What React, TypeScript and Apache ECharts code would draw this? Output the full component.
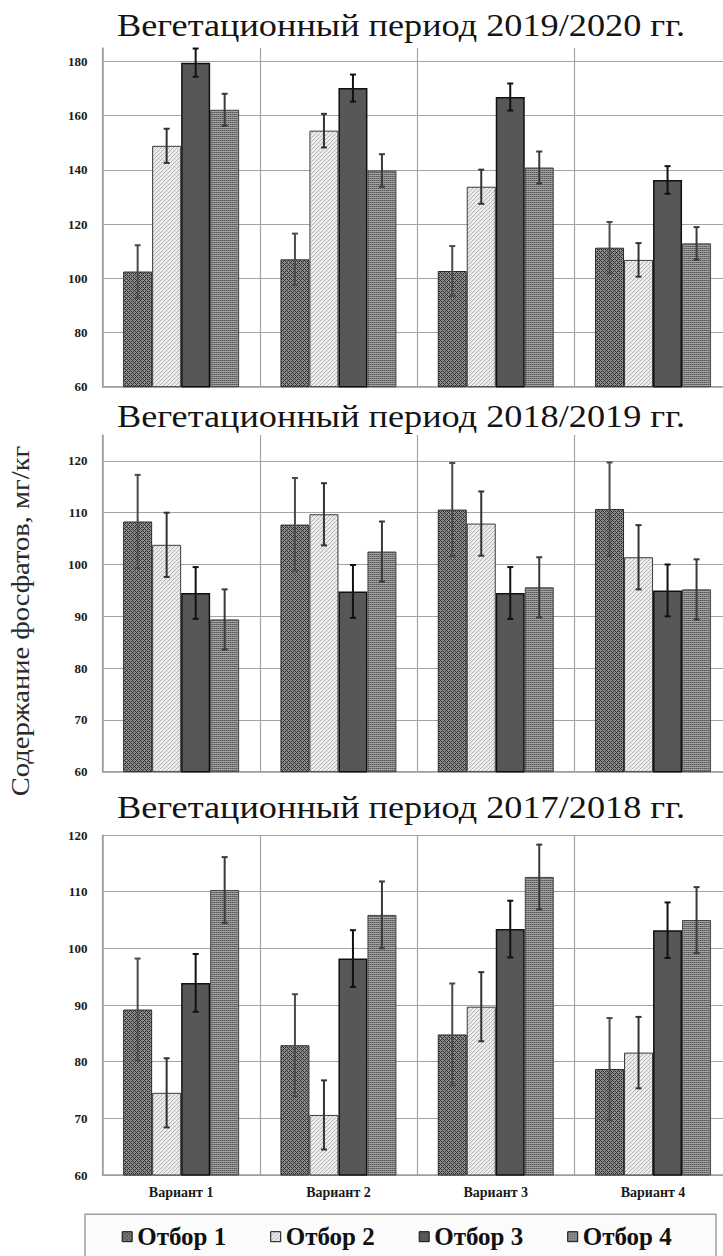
import React, { useEffect, useRef } from "react";
import * as echarts from "echarts";

// Categories, series and labels
const categories = ["Вариант 1", "Вариант 2", "Вариант 3", "Вариант 4"];
const samplings = ["Отбор 1", "Отбор 2", "Отбор 3", "Отбор 4"];
const periodTitles = [
  "Вегетационный период 2019/2020 гг.",
  "Вегетационный период 2018/2019 гг.",
  "Вегетационный период 2017/2018 гг.",
];
const yAxisTitle = "Содержание фосфатов, мг/кг";

// Phosphate content, mg/kg. Rows: Отбор 1..4, columns: Вариант 1..4
const values2020 = [
  [102.5, 107.0, 102.7, 111.3],
  [148.9, 154.5, 133.8, 106.8],
  [179.6, 170.2, 166.9, 136.3],
  [162.2, 139.8, 140.9, 112.9],
];
const errors2020 = [
  [9.7, 9.5, 9.2, 9.5],
  [6.3, 6.2, 6.3, 6.2],
  [5.2, 5.0, 5.0, 5.1],
  [5.9, 6.0, 5.9, 6.0],
];

const values2019 = [
  [108.3, 107.7, 110.6, 110.7],
  [103.8, 109.7, 107.9, 101.4],
  [94.5, 94.8, 94.5, 95.0],
  [89.4, 102.5, 95.6, 95.2],
];
const errors2019 = [
  [9.0, 9.0, 9.0, 9.0],
  [6.2, 6.0, 6.2, 6.2],
  [5.0, 5.1, 5.0, 5.0],
  [5.8, 5.8, 5.8, 5.8],
];

const values2018 = [
  [89.2, 82.9, 84.8, 78.7],
  [74.5, 70.6, 89.7, 81.6],
  [93.9, 98.2, 103.4, 103.2],
  [110.3, 105.9, 112.6, 105.0],
];
const errors2018 = [
  [9.0, 9.0, 9.0, 9.0],
  [6.1, 6.1, 6.1, 6.3],
  [5.1, 5.0, 5.0, 4.9],
  [5.8, 5.9, 5.7, 5.8],
];

// Y-axis scales per panel
const yMins = [60, 60, 60];
const yMaxs = [185, 125, 120];
const yIntervals = [20, 10, 10];

const panelValues = [values2020, values2019, values2018];
const panelErrors = [errors2020, errors2019, errors2018];

// Layout
const CHART_W = 745;
const CHART_H = 1256;
const PLOT_LEFT = 102.5;
const PLOT_RIGHT = 13.3;
const GRID_TOPS = [48, 435, 835];
const GRID_HEIGHTS = [338.7, 336.7, 340];
const TITLE_MIDS = [25, 416.7, 807.5];
const BAR_W = 29;
const SERIF = "Liberation Serif";

function makePattern(w: number, h: number, pick: (x: number, y: number) => string) {
  const c = document.createElement("canvas");
  c.width = w;
  c.height = h;
  const ctx = c.getContext("2d")!;
  for (let y = 0; y < h; y++) {
    for (let x = 0; x < w; x++) {
      ctx.fillStyle = pick(x, y);
      ctx.fillRect(x, y, 1, 1);
    }
  }
  return { image: c, repeat: "repeat" as const };
}

export default function App() {
  const ref = useRef<HTMLDivElement>(null);

  useEffect(() => {
    if (!ref.current) return;
    const chart = echarts.init(ref.current, undefined, { renderer: "svg" });

    // Fill textures for the four samplings
    const fills: any[] = [
      // dark cross-hatch
      makePattern(4, 4, (x, y) =>
        (x + y) % 4 === 0 || (x - y + 4) % 4 === 0 ? "#303030" : "#8e8e8e"
      ),
      // light fine diagonal texture
      makePattern(4, 4, (x, y) => ((x + y) % 4 === 0 ? "#b4b4b4" : (x + 2 * y) % 4 === 1 ? "#dcdcdc" : "#f0f0f0")),
      // solid dark
      "#575757",
      // horizontal dotted stripes
      makePattern(4, 4, (x, y) =>
        y % 2 === 0 ? (x % 2 === 0 ? "#555555" : "#787878") : "#a2a2a2"
      ),
    ];
    const borders = [
      { color: "#2a2a2a", width: 1 },
      { color: "#3a3a3a", width: 1 },
      { color: "#111111", width: 1.5 },
      { color: "#444444", width: 1 },
    ];
    const errorColors = ["#4a4a4a", "#333333", "#111111", "#3a3a3a"];

    const grids = GRID_TOPS.map((top, g) => ({
      left: PLOT_LEFT,
      right: PLOT_RIGHT,
      top,
      height: GRID_HEIGHTS[g],
      containLabel: false,
    }));

    const xAxes = GRID_TOPS.map((_, g) => ({
      type: "category",
      gridIndex: g,
      data: categories,
      boundaryGap: true,
      axisLine: { show: true, lineStyle: { color: "#9c9c9c", width: 1.5 } },
      axisTick: { show: false },
      splitLine: { show: true, interval: 0, lineStyle: { color: "#a4a4a4", width: 1.2 } },
      axisLabel: {
        show: g === 2,
        interval: 0,
        margin: 10,
        color: "#1a1a1a",
        fontFamily: SERIF,
        fontWeight: "bold",
        fontSize: 14,
      },
    }));

    const yAxes = GRID_TOPS.map((_, g) => ({
      type: "value",
      gridIndex: g,
      min: yMins[g],
      max: yMaxs[g],
      interval: yIntervals[g],
      axisLine: { show: true, lineStyle: { color: "#9c9c9c", width: 1.5 } },
      axisTick: { show: false },
      splitLine: {
        show: true,
        showMaxLine: g === 2,
        lineStyle: { color: "#a4a4a4", width: 1.2 },
      },
      axisLabel: {
        showMaxLabel: g === 2,
        margin: 15,
        color: "#1a1a1a",
        fontFamily: SERIF,
        fontWeight: "bold",
        fontSize: 13,
      },
    }));

    const series: any[] = [];
    GRID_TOPS.forEach((_, g) => {
      samplings.forEach((name, k) => {
        series.push({
          type: "bar",
          name,
          xAxisIndex: g,
          yAxisIndex: g,
          data: panelValues[g][k],
          barWidth: BAR_W,
          barGap: "0%",
          itemStyle: {
            color: fills[k],
            borderColor: borders[k].color,
            borderWidth: borders[k].width,
          },
          emphasis: { disabled: true },
        });
      });
      const errData: number[][] = [];
      samplings.forEach((_, k) => {
        categories.forEach((__, c) => {
          errData.push([c, k, panelValues[g][k][c], panelErrors[g][k][c]]);
        });
      });
      series.push({
        type: "custom",
        name: "error",
        xAxisIndex: g,
        yAxisIndex: g,
        z: 5,
        clip: false,
        encode: { x: 0, y: 2 },
        data: errData,
        renderItem: (_params: any, api: any) => {
          const c = api.value(0);
          const k = api.value(1);
          const v = api.value(2);
          const e = api.value(3);
          const x = api.coord([c, v])[0] + (k - 1.5) * BAR_W;
          const yTop = api.coord([c, v + e])[1];
          const yBot = api.coord([c, v - e])[1];
          const style = { stroke: errorColors[k], lineWidth: 2 };
          return {
            type: "group",
            children: [
              { type: "line", shape: { x1: x, y1: yTop, x2: x, y2: yBot }, style },
              { type: "line", shape: { x1: x - 3, y1: yTop, x2: x + 3, y2: yTop }, style },
              { type: "line", shape: { x1: x - 3, y1: yBot, x2: x + 3, y2: yBot }, style },
            ],
          };
        },
      });
    });

    const graphics: any[] = periodTitles.map((t, i) => ({
      type: "text",
      x: 401,
      y: TITLE_MIDS[i],
      scaleX: 1.17,
      style: {
        text: t,
        align: "center",
        verticalAlign: "middle",
        fill: "#141414",
        fontFamily: SERIF,
        fontSize: 31,
      },
    }));
    graphics.push({
      type: "text",
      x: 21,
      y: 621,
      rotation: Math.PI / 2,
      scaleX: 1.14,
      style: {
        text: yAxisTitle,
        align: "center",
        verticalAlign: "middle",
        fill: "#2a2a2a",
        fontFamily: SERIF,
        fontSize: 25,
      },
    });
    graphics.push({
      type: "rect",
      z: 0,
      shape: { x: 85, y: 1214.3, width: 631, height: 60 },
      style: { fill: "#fbfbfb", stroke: "#a0a0a0", lineWidth: 1.5 },
    });

    chart.setOption({
      animation: false,
      backgroundColor: "#ffffff",
      grid: grids,
      xAxis: xAxes,
      yAxis: yAxes,
      series,
      graphic: graphics,
      legend: {
        data: samplings,
        left: 121.7,
        top: 1222.7,
        padding: 0,
        itemWidth: 10,
        itemHeight: 10,
        itemGap: 33,
        icon: "rect",
        selectedMode: false,
        itemStyle: { borderColor: "#111111", borderWidth: 1 },
        textStyle: {
          fontFamily: SERIF,
          fontWeight: "bold",
          fontSize: 25,
          lineHeight: 28,
          color: "#111111",
          width: 100,
          overflow: "none",
        },
      },
    });

    return () => chart.dispose();
  }, []);

  return (
    <div
      style={{
        position: "absolute",
        left: 0,
        top: 0,
        width: 723,
        height: CHART_H,
        overflow: "hidden",
        background: "#ffffff",
      }}
    >
      <div ref={ref} style={{ width: CHART_W, height: CHART_H }} />
    </div>
  );
}
